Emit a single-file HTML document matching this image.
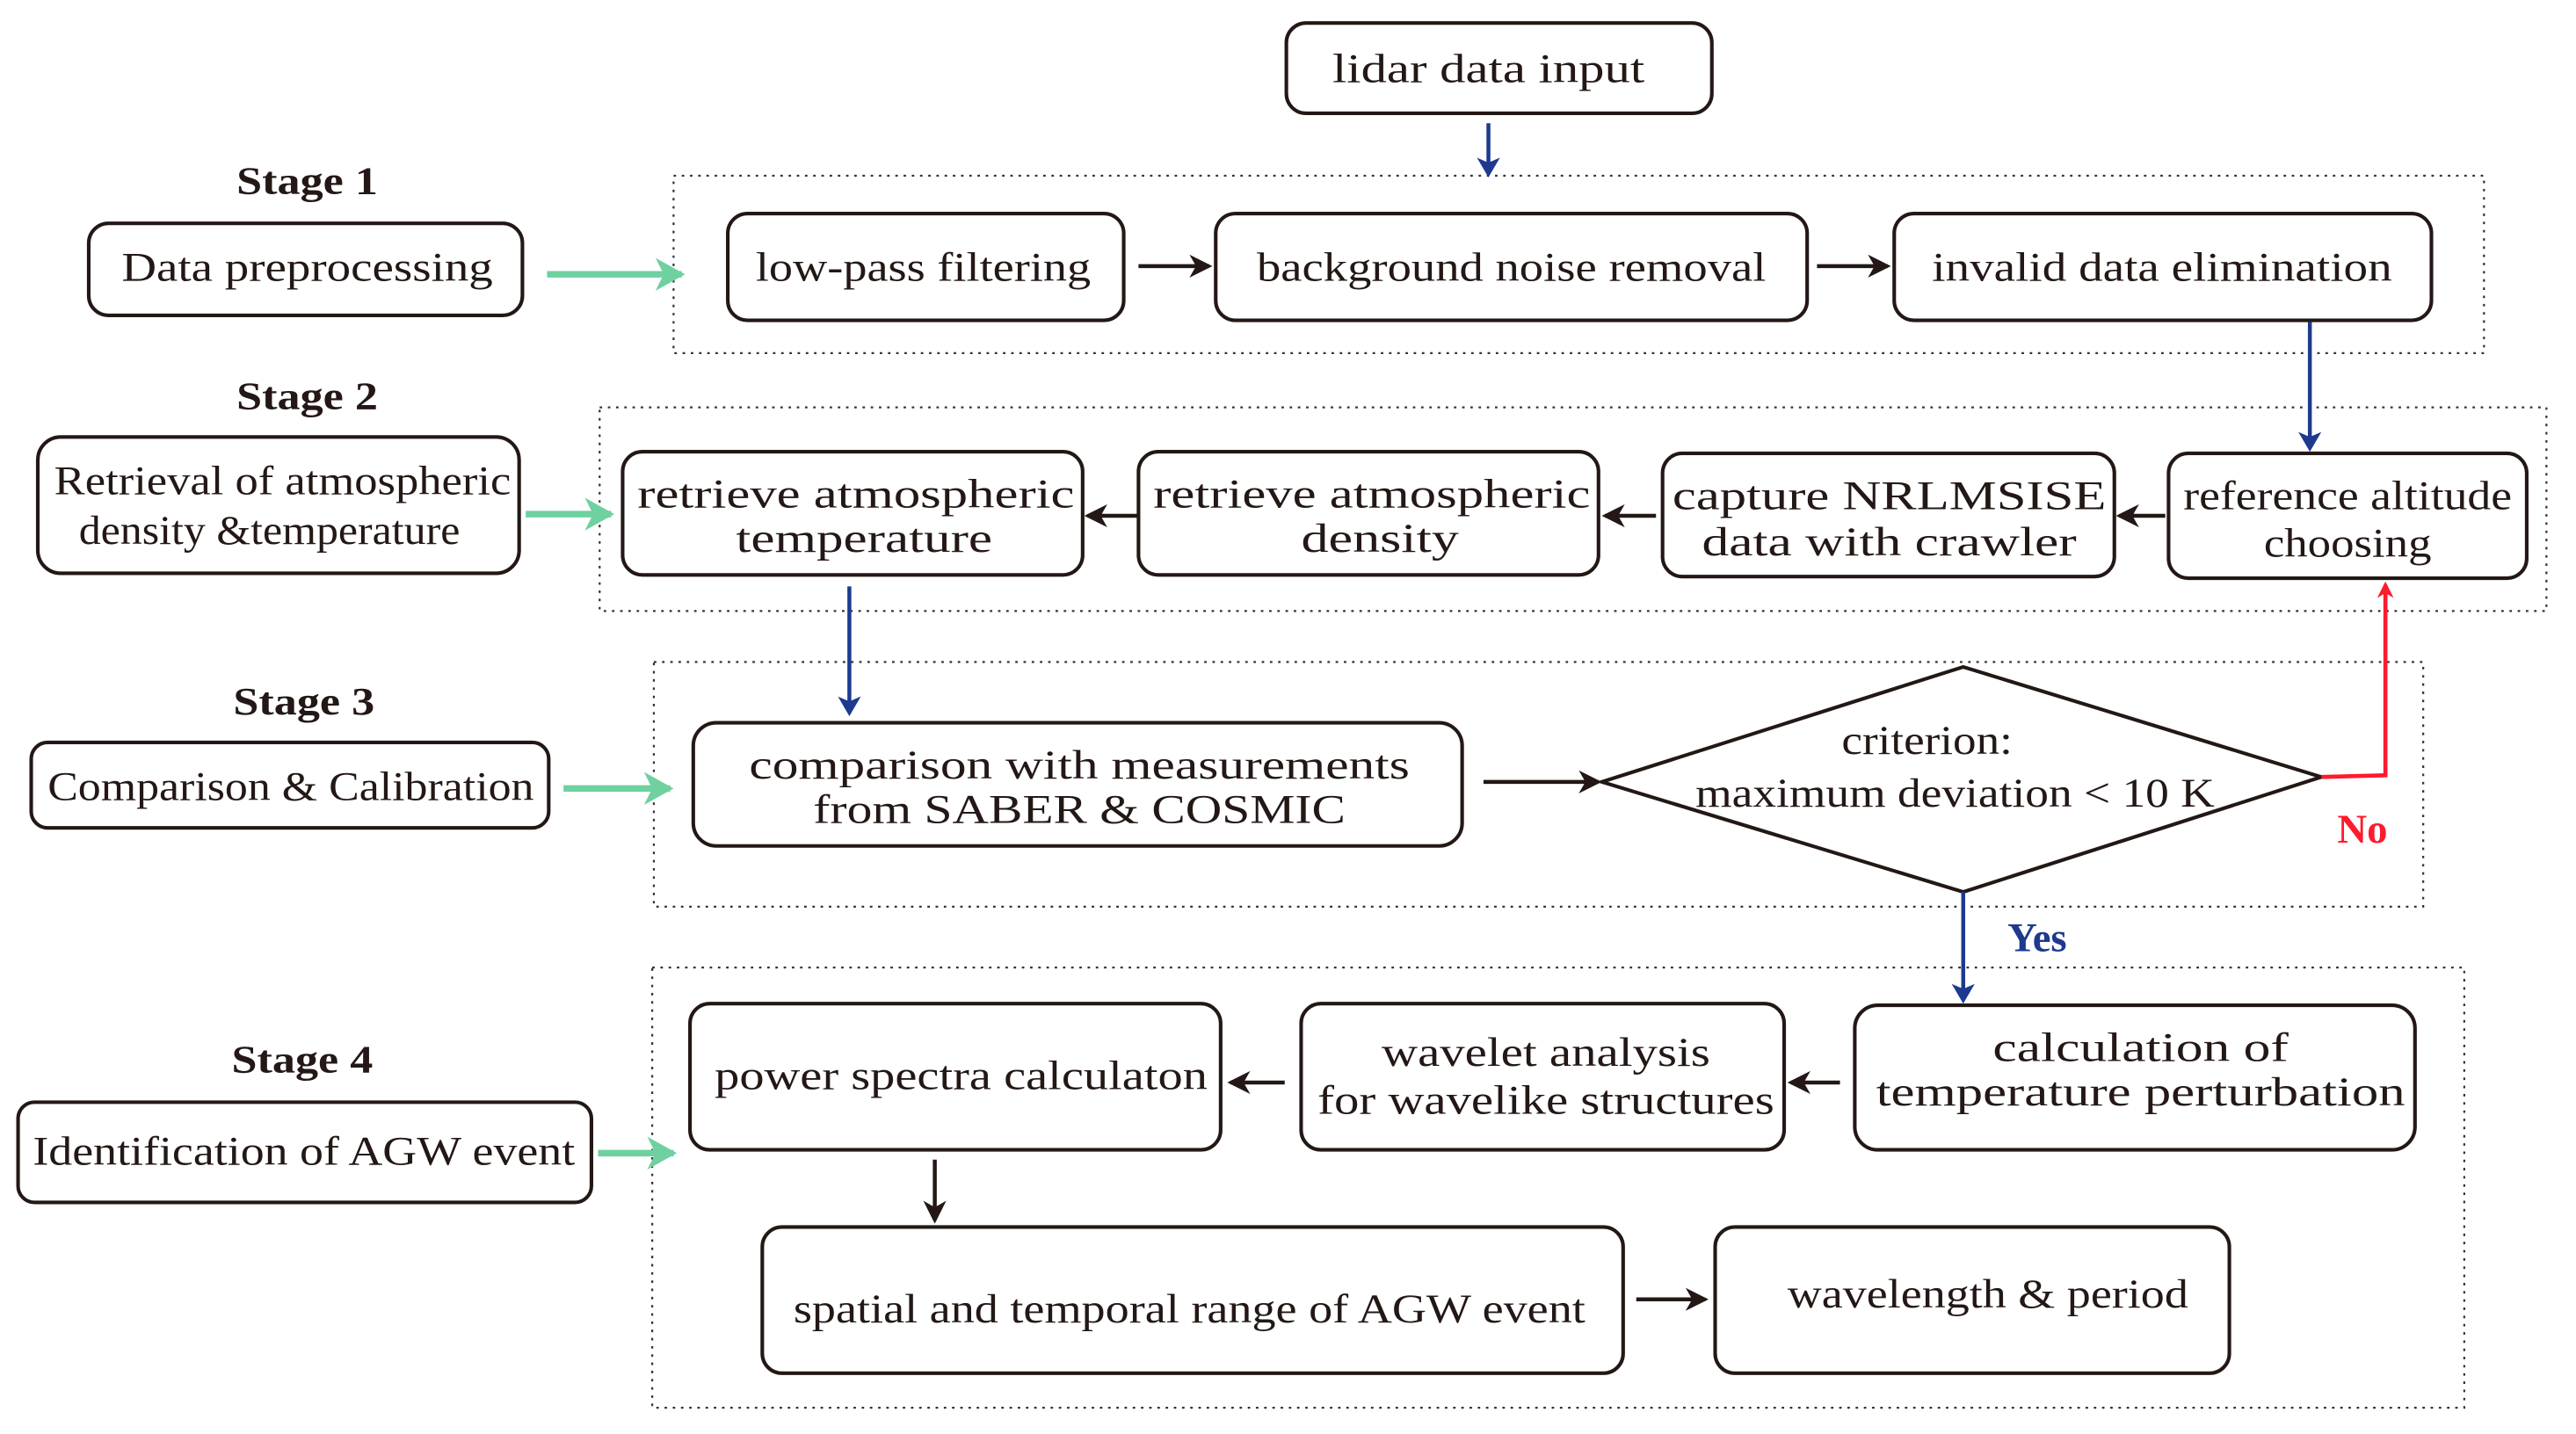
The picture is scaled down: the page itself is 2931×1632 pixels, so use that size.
<!DOCTYPE html>
<html><head><meta charset="utf-8"><style>html,body{margin:0;padding:0;background:#fff}svg{display:block}</style></head>
<body>
<svg width="2931" height="1632" viewBox="0 0 1568 873" preserveAspectRatio="none" xmlns="http://www.w3.org/2000/svg" font-family="'Liberation Serif',serif">
<defs>
<marker id="ak" markerWidth="14" markerHeight="14" refX="12" refY="7" orient="auto" markerUnits="userSpaceOnUse"><path d="M0,0 L14,7 L0,14 L4,7z" fill="#231815"/></marker>
<marker id="ab" markerWidth="12" markerHeight="14" refX="10" refY="7" orient="auto" markerUnits="userSpaceOnUse"><path d="M0,0 L12,7 L0,14 L3,7z" fill="#1d3a8f"/></marker>
<marker id="ar" markerWidth="10" markerHeight="10" refX="8" refY="5" orient="auto" markerUnits="userSpaceOnUse"><path d="M0,0 L10,5 L0,10 L3,5z" fill="#ff1a2e"/></marker>
<marker id="ag" markerWidth="18" markerHeight="20" refX="16" refY="10" orient="auto" markerUnits="userSpaceOnUse"><path d="M0,0 L18,10 L0,20 L5,10z" fill="#6fd0a0"/></marker>
</defs>
<g fill="none" stroke="#333" stroke-width="1.2" stroke-dasharray="1.5,3.5">
<rect x="410" y="107" width="1102" height="108"/>
<rect x="365" y="248" width="1185" height="124"/>
<rect x="398" y="403" width="1077" height="149"/>
<rect x="397" y="589" width="1103" height="268"/>
</g>
<g fill="#fff" stroke="#231815" stroke-width="2.2">
<rect x="783" y="14" width="259" height="55" rx="12"/>
<rect x="54" y="136" width="264" height="56" rx="12"/>
<rect x="443" y="130" width="241" height="65" rx="12"/>
<rect x="740" y="130" width="360" height="65" rx="12"/>
<rect x="1153" y="130" width="327" height="65" rx="12"/>
<rect x="23" y="266" width="293" height="83" rx="14"/>
<rect x="379" y="275" width="280" height="75" rx="12"/>
<rect x="693" y="275" width="280" height="75" rx="12"/>
<rect x="1012" y="276" width="275" height="75" rx="12"/>
<rect x="1320" y="276" width="218" height="76" rx="12"/>
<rect x="19" y="452" width="315" height="52" rx="10"/>
<rect x="422" y="440" width="468" height="75" rx="14"/>
<path d="M975,476 L1195,406 L1413,473 L1195,543 Z"/>
<rect x="11" y="671" width="349" height="61" rx="10"/>
<rect x="420" y="611" width="323" height="89" rx="12"/>
<rect x="792" y="611" width="294" height="89" rx="12"/>
<rect x="1129" y="612" width="341" height="88" rx="14"/>
<rect x="464" y="747" width="524" height="89" rx="12"/>
<rect x="1044" y="747" width="313" height="89" rx="12"/>
</g>
<g stroke="#231815" stroke-width="2.4" fill="none" marker-end="url(#ak)">
<line x1="693" y1="162" x2="736" y2="162"/>
<line x1="1106" y1="162" x2="1149" y2="162"/>
<line x1="692" y1="314" x2="662" y2="314"/>
<line x1="1008" y1="314" x2="977" y2="314"/>
<line x1="1318" y1="314" x2="1290" y2="314"/>
<line x1="903" y1="476" x2="973" y2="476"/>
<line x1="782" y1="659" x2="749" y2="659"/>
<line x1="1120" y1="659" x2="1090" y2="659"/>
<line x1="569" y1="706" x2="569" y2="743"/>
<line x1="996" y1="791" x2="1038" y2="791"/>
</g>
<g stroke="#1d3a8f" stroke-width="2.4" fill="none" marker-end="url(#ab)">
<line x1="906" y1="75" x2="906" y2="106"/>
<line x1="1406" y1="196" x2="1406" y2="273"/>
<line x1="517" y1="357" x2="517" y2="434"/>
<line x1="1195" y1="543" x2="1195" y2="609"/>
</g>
<path d="M1413,473 L1452,472 L1452,356" stroke="#ff1a2e" stroke-width="2.5" fill="none" marker-end="url(#ar)"/>
<g stroke="#6fd0a0" stroke-width="4" fill="none" marker-end="url(#ag)">
<line x1="333" y1="167" x2="415" y2="167"/>
<line x1="320" y1="313" x2="372" y2="313"/>
<line x1="343" y1="480" x2="408" y2="480"/>
<line x1="364" y1="702" x2="410" y2="702"/>
</g>
<g fill="#231815" font-size="25" text-anchor="middle">
<text x="187" y="118" font-weight="bold" font-size="24" textLength="86" lengthAdjust="spacingAndGlyphs">Stage 1</text>
<text x="187" y="249" font-weight="bold" font-size="24" textLength="86" lengthAdjust="spacingAndGlyphs">Stage 2</text>
<text x="185" y="435" font-weight="bold" font-size="24" textLength="86" lengthAdjust="spacingAndGlyphs">Stage 3</text>
<text x="184" y="653" font-weight="bold" font-size="24" textLength="86" lengthAdjust="spacingAndGlyphs">Stage 4</text>
<text x="906" y="50" textLength="190" lengthAdjust="spacingAndGlyphs">lidar  data  input</text>
<text x="187" y="171" textLength="226" lengthAdjust="spacingAndGlyphs">Data preprocessing</text>
<text x="562" y="171" textLength="204" lengthAdjust="spacingAndGlyphs">low-pass filtering</text>
<text x="920" y="171" textLength="310" lengthAdjust="spacingAndGlyphs">background noise removal</text>
<text x="1316" y="171" textLength="280" lengthAdjust="spacingAndGlyphs">invalid data elimination</text>
<text x="172" y="301" textLength="278" lengthAdjust="spacingAndGlyphs">Retrieval of atmospheric</text>
<text x="164" y="331" textLength="232" lengthAdjust="spacingAndGlyphs">density &amp;temperature</text>
<text x="521" y="309" textLength="266" lengthAdjust="spacingAndGlyphs">retrieve atmospheric</text>
<text x="526" y="336" textLength="156" lengthAdjust="spacingAndGlyphs">temperature</text>
<text x="835" y="309" textLength="266" lengthAdjust="spacingAndGlyphs">retrieve atmospheric</text>
<text x="840" y="336" textLength="96" lengthAdjust="spacingAndGlyphs">density</text>
<text x="1150" y="310" textLength="264" lengthAdjust="spacingAndGlyphs">capture NRLMSISE</text>
<text x="1150" y="338" textLength="228" lengthAdjust="spacingAndGlyphs">data with crawler</text>
<text x="1429" y="310" textLength="200" lengthAdjust="spacingAndGlyphs">reference altitude</text>
<text x="1429" y="339" textLength="102" lengthAdjust="spacingAndGlyphs">choosing</text>
<text x="177" y="487" textLength="296" lengthAdjust="spacingAndGlyphs">Comparison &amp; Calibration</text>
<text x="657" y="474" textLength="402" lengthAdjust="spacingAndGlyphs">comparison with measurements</text>
<text x="657" y="501" textLength="324" lengthAdjust="spacingAndGlyphs">from SABER &amp; COSMIC</text>
<text x="1173" y="459" textLength="104" lengthAdjust="spacingAndGlyphs">criterion:</text>
<text x="1190" y="491" textLength="316" lengthAdjust="spacingAndGlyphs">maximum deviation &lt; 10 K</text>
<text x="185" y="709" textLength="330" lengthAdjust="spacingAndGlyphs">Identification of AGW event</text>
<text x="585" y="663" textLength="300" lengthAdjust="spacingAndGlyphs">power spectra calculaton</text>
<text x="941" y="649" textLength="200" lengthAdjust="spacingAndGlyphs">wavelet analysis</text>
<text x="941" y="678" textLength="278" lengthAdjust="spacingAndGlyphs">for wavelike structures</text>
<text x="1303" y="646" textLength="180" lengthAdjust="spacingAndGlyphs">calculation of</text>
<text x="1303" y="673" textLength="322" lengthAdjust="spacingAndGlyphs">temperature perturbation</text>
<text x="724" y="805" textLength="482" lengthAdjust="spacingAndGlyphs">spatial and temporal range of AGW event</text>
<text x="1210" y="796" textLength="244" lengthAdjust="spacingAndGlyphs">wavelength &amp; period</text>
</g>
<text x="1438" y="513" fill="#ff1a2e" font-weight="bold" font-size="25" text-anchor="middle" font-family="'Liberation Serif',serif">No</text>
<text x="1240" y="579" fill="#1d3a8f" font-weight="bold" font-size="25" text-anchor="middle" font-family="'Liberation Serif',serif">Yes</text>
</svg>
</body></html>
